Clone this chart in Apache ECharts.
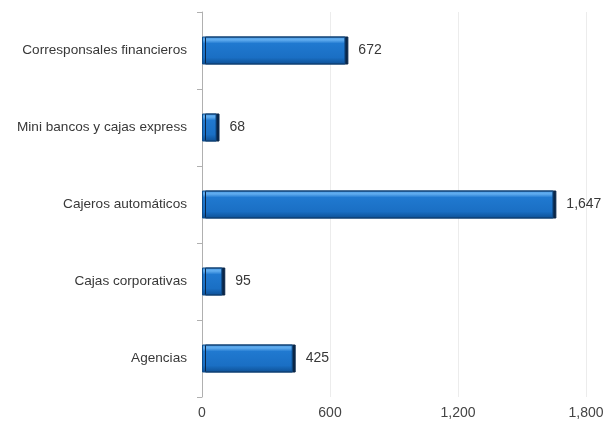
<!DOCTYPE html>
<html>
<head>
<meta charset="utf-8">
<script src="https://cdn.jsdelivr.net/npm/echarts@6/dist/echarts.min.js"></script>
<style>
  html, body { margin: 0; padding: 0; background: #fff; }
  #chart { width: 608px; height: 425px; }
</style>
</head>
<body>
<div id="chart"></div>
<script>
// Categories listed bottom to top (category axis runs upward)
const categories = [
  'Agencias',
  'Cajas corporativas',
  'Cajeros automáticos',
  'Mini bancos y cajas express',
  'Corresponsales financieros'
];
const values = [425, 95, 1647, 68, 672];
const axisMin = 0;
const axisMax = 1800;
const axisStep = 600;

const fmt = v => Number(v).toLocaleString('en-US');

const chart = echarts.init(document.getElementById('chart'), null, { renderer: 'canvas' });
chart.setOption({
  animation: false,
  backgroundColor: '#ffffff',
  textStyle: { fontFamily: 'Liberation Sans, Arial, sans-serif' },
  grid: { left: 202, right: 22, top: 12, bottom: 28 },
  xAxis: {
    type: 'value',
    min: axisMin,
    max: axisMax,
    interval: axisStep,
    axisLine: { show: false },
    axisTick: { show: false },
    splitLine: { show: true, lineStyle: { color: '#ececec', width: 1 } },
    axisLabel: { color: '#444', fontSize: 14, margin: 9, formatter: fmt }
  },
  yAxis: {
    type: 'category',
    data: categories,
    axisLine: { show: true, lineStyle: { color: '#b0b0b0', width: 1 } },
    axisTick: { show: true, length: 5, lineStyle: { color: '#b0b0b0' } },
    axisLabel: { color: '#383838', fontSize: 13.6, margin: 15 }
  },
  series: [{
    type: 'bar',
    data: values,
    barWidth: 28,
    itemStyle: {
      color: new echarts.graphic.LinearGradient(0, 0, 0, 1, [
        { offset: 0, color: '#4596e0' },
        { offset: 0.12, color: '#62aef0' },
        { offset: 0.25, color: '#2079d0' },
        { offset: 0.75, color: '#1a6fc4' },
        { offset: 1, color: '#0d4f94' }
      ]),
      borderColor: '#104c88',
      borderWidth: 1,
      shadowColor: '#0a2648',
      shadowOffsetX: 3,
      shadowOffsetY: 0,
      shadowBlur: 0
    },
    label: {
      show: true,
      position: 'right',
      distance: 13,
      color: '#383838',
      fontSize: 14,
      formatter: p => fmt(p.value)
    }
  }]
});
</script>
</body>
</html>
